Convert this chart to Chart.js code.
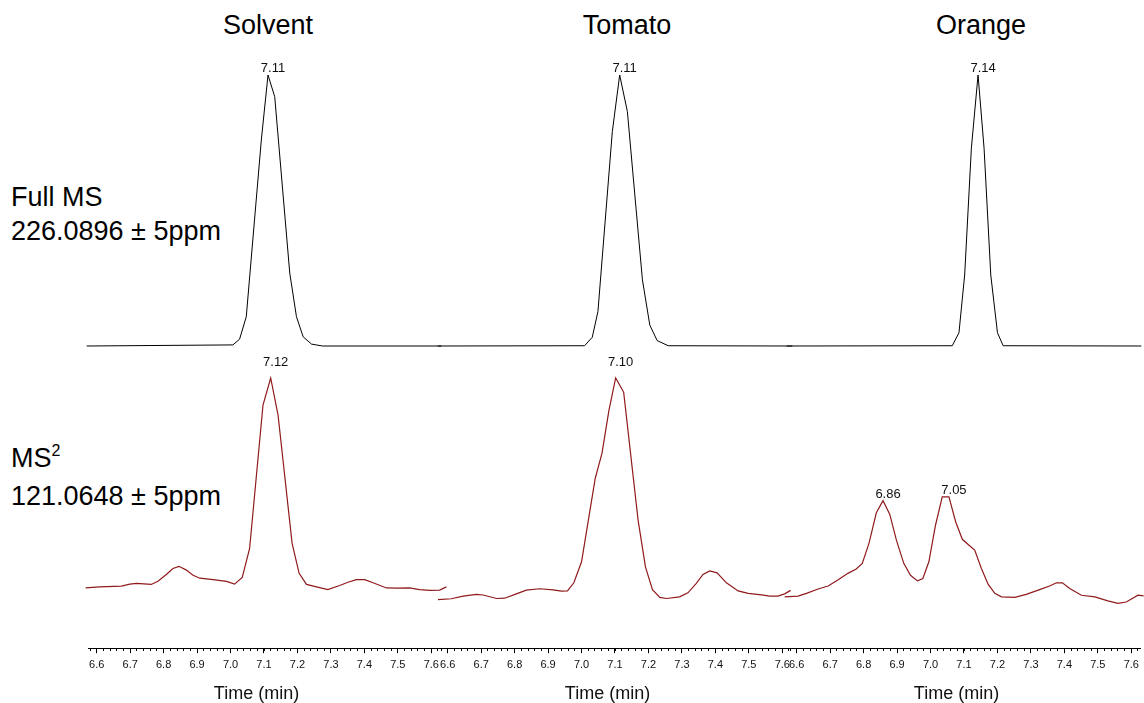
<!DOCTYPE html>
<html>
<head>
<meta charset="utf-8">
<script src="https://cdn.jsdelivr.net/npm/chart.js@4.4.1/dist/chart.umd.min.js"></script>
<style>
  body { margin: 0; width: 1144px; height: 703px; overflow: hidden; background: #fff; position: relative;
         font-family: "Liberation Sans", Arial, sans-serif; color: #000; }
  canvas { position: absolute; }
  .title { position: absolute; top: 10px; width: 200px; text-align: center; font-size: 27px; line-height: 31px; }
  .row { position: absolute; left: 11px; font-size: 27px; line-height: 34px; white-space: nowrap; }
  .sup { font-size: 16px; position: relative; top: -11px; }
</style>
</head>
<body>
<div class="title" style="left:168px">Solvent</div>
<div class="title" style="left:527px">Tomato</div>
<div class="title" style="left:881px">Orange</div>
<div class="row" style="top:180px">Full MS<br>226.0896 ± 5ppm</div>
<div class="row" style="top:441px;line-height:35px">MS<span class="sup">2</span><br>121.0648 ± 5ppm</div>

<canvas id="full0" width="372" height="290"></canvas>
<canvas id="full1" width="372" height="290"></canvas>
<canvas id="full2" width="372" height="290"></canvas>
<canvas id="ms2_0" width="372" height="355"></canvas>
<canvas id="ms2_1" width="372" height="355"></canvas>
<canvas id="ms2_2" width="372" height="355"></canvas>

<script>
// time window shown in every panel (min)
var timeRange = [6.574, 7.626];

// Full MS 226.0896 (relative intensity, %)
var solventFullTime = [6.570, 7.007, 7.027, 7.047, 7.092, 7.112, 7.132, 7.177, 7.197, 7.217, 7.242, 7.275, 7.630];
var solventFullInt  = [0, 0.4, 2.5, 10.8, 76.0, 100, 92.0, 26.9, 10.8, 3.4, 0.7, 0, 0];
var tomatoFullTime  = [6.570, 7.009, 7.032, 7.049, 7.092, 7.114, 7.137, 7.182, 7.204, 7.226, 7.259, 7.630];
var tomatoFullInt   = [0, 0.1, 3.2, 12.7, 79.1, 100, 86.5, 24.4, 7.7, 2.0, 0.1, 0];
var orangeFullTime  = [6.570, 7.065, 7.085, 7.102, 7.122, 7.142, 7.160, 7.180, 7.200, 7.217, 7.630];
var orangeFullInt   = [0, 0.1, 4.9, 26.2, 73.0, 100, 73.0, 26.2, 4.9, 0.1, 0];

// MS2 121.0648 (relative intensity, %)
var solventMs2Time = [6.567, 6.609, 6.674, 6.699, 6.719, 6.763, 6.783, 6.808, 6.828, 6.846, 6.868, 6.888, 6.908, 6.948, 6.988,
                      7.012, 7.035, 7.057, 7.097, 7.120, 7.142, 7.184, 7.205, 7.227, 7.257, 7.291, 7.326, 7.351, 7.376, 7.401,
                      7.426, 7.466, 7.496, 7.535, 7.565, 7.595, 7.625, 7.645];
var solventMs2Int  = [22.3, 22.7, 23.0, 23.7, 24.0, 23.6, 24.8, 27.3, 29.5, 30.3, 28.9, 27.0, 25.9, 25.4, 24.7,
                      23.7, 26.2, 36.9, 90.0, 100, 86.3, 38.8, 27.7, 23.6, 22.7, 21.7, 23.2, 24.4, 25.4, 25.4,
                      24.2, 22.3, 22.2, 22.3, 21.7, 21.4, 21.5, 22.7];
var tomatoMs2Time  = [6.571, 6.611, 6.646, 6.686, 6.706, 6.746, 6.770, 6.805, 6.835, 6.875, 6.915, 6.940, 6.958, 6.977, 7.000,
                      7.041, 7.061, 7.082, 7.102, 7.126, 7.169, 7.191, 7.212, 7.234, 7.254, 7.293, 7.318, 7.343, 7.363, 7.383,
                      7.405, 7.433, 7.468, 7.498, 7.538, 7.562, 7.587, 7.607, 7.625];
var tomatoMs2Int   = [18.0, 18.3, 19.3, 19.9, 19.7, 18.4, 18.5, 20.1, 21.5, 22.0, 21.6, 21.1, 21.2, 24.2, 32.0,
                      62.9, 72.1, 88.1, 100, 94.7, 47.4, 30.1, 21.7, 18.8, 18.4, 19.0, 20.5, 24.0, 27.3, 28.6,
                      27.9, 24.2, 21.2, 20.3, 19.7, 19.3, 19.3, 20.1, 21.4];
var orangeMs2Time  = [6.564, 6.604, 6.629, 6.664, 6.694, 6.723, 6.753, 6.778, 6.796, 6.816, 6.838, 6.858, 6.878, 6.898, 6.920,
                      6.940, 6.961, 6.977, 6.995, 7.015, 7.035, 7.055, 7.075, 7.095, 7.115, 7.132, 7.152, 7.172, 7.192, 7.212,
                      7.252, 7.286, 7.326, 7.356, 7.376, 7.394, 7.416, 7.451, 7.491, 7.530, 7.560, 7.585, 7.620, 7.637];
var orangeMs2Int   = [19.0, 19.3, 20.3, 21.9, 23.0, 25.2, 27.7, 29.3, 31.4, 38.8, 50.1, 54.6, 49.6, 40.0, 31.4,
                      27.0, 24.9, 25.8, 32.0, 45.6, 56.0, 56.0, 46.8, 40.3, 38.1, 36.3, 29.5, 23.7, 20.3, 19.0,
                      18.8, 19.9, 21.7, 23.0, 24.2, 24.2, 22.1, 19.6, 19.0, 17.5, 16.6, 17.1, 19.6, 19.4];

// labelled retention times
var fullPeaks = [[7.11], [7.11], [7.14]];
var ms2Peaks  = [[7.12], [7.10], [6.86, 7.05]];

var fullSeries = [[solventFullTime, solventFullInt], [tomatoFullTime, tomatoFullInt], [orangeFullTime, orangeFullInt]];
var ms2Series  = [[solventMs2Time, solventMs2Int], [tomatoMs2Time, tomatoMs2Int], [orangeMs2Time, orangeMs2Int]];

// layout: left edge of each plot area
var plotLeft = [88, 439, 788];
var pad = 10;
var fontFamily = '"Liberation Sans", Arial, sans-serif';

function zip(t, v) {
  var out = [];
  for (var i = 0; i < t.length; i++) out.push({x: t[i], y: v[i]});
  return out;
}

// writes the retention time above the highest point near each labelled time
var peakLabelPlugin = {
  id: 'peakLabels',
  afterDatasetsDraw: function(chart, args, opts) {
    var ctx = chart.ctx, area = chart.chartArea;
    var pts = chart.data.datasets[0].data;
    var xs = chart.scales.x, ys = chart.scales.y;
    ctx.save();
    ctx.font = '13px ' + fontFamily;
    ctx.fillStyle = '#111';
    ctx.textAlign = 'center';
    ctx.textBaseline = 'alphabetic';
    opts.peaks.forEach(function(rt) {
      var best = null;
      pts.forEach(function(p) {
        if (Math.abs(p.x - rt) <= 0.012 && (!best || p.y > best.y)) best = p;
      });
      if (!best) return;
      var px = xs.getPixelForValue(best.x) + 5;
      var py = ys.getPixelForValue(best.y) - 3;
      // tall peaks: label sits on the top edge of the plot
      if (opts.clampTop && py < area.top + 12) py = area.top;
      ctx.fillText(rt.toFixed(2), px, py);
    });
    ctx.restore();
  }
};

function fullChart(i) {
  var cv = document.getElementById('full' + i);
  cv.style.left = (plotLeft[i] - pad) + 'px';
  cv.style.top = '60px';
  return new Chart(cv, {
    type: 'line',
    data: {
      datasets: [{
        data: zip(fullSeries[i][0], fullSeries[i][1]),
        borderColor: '#000',
        borderWidth: 1,
        pointRadius: 0,
        tension: 0,
        clip: false
      }]
    },
    options: {
      responsive: false,
      animation: false,
      events: [],
      layout: { padding: { top: 15, bottom: 0, left: pad, right: pad } },
      plugins: {
        legend: { display: false },
        tooltip: { enabled: false },
        peakLabels: { peaks: fullPeaks[i], clampTop: false }
      },
      scales: {
        x: { type: 'linear', min: timeRange[0], max: timeRange[1], display: false },
        y: {
          min: -1.476, max: 100,
          ticks: { display: false, stepSize: 50 },
          border: { display: false },
          grid: {
            drawTicks: false,
            lineWidth: 1.6,
            color: function(c) { return c.tick && c.tick.value === 0 ? '#000' : 'rgba(0,0,0,0)'; }
          },
          afterFit: function(s) { s.width = 0; }
        }
      }
    },
    plugins: [peakLabelPlugin]
  });
}

function ms2Chart(i) {
  var cv = document.getElementById('ms2_' + i);
  cv.style.left = (plotLeft[i] - pad) + 'px';
  cv.style.top = '350px';
  return new Chart(cv, {
    type: 'line',
    data: {
      datasets: [{
        data: zip(ms2Series[i][0], ms2Series[i][1]),
        borderColor: '#901a1c',
        borderWidth: 1.2,
        pointRadius: 0,
        tension: 0,
        clip: false
      }]
    },
    options: {
      responsive: false,
      animation: false,
      events: [],
      layout: { padding: { top: 16, bottom: 0, left: pad, right: pad } },
      plugins: {
        legend: { display: false },
        tooltip: { enabled: false },
        peakLabels: { peaks: ms2Peaks[i], clampTop: true }
      },
      scales: {
        x: {
          type: 'linear', position: 'bottom',
          min: timeRange[0], max: timeRange[1],
          border: { display: true, color: '#000', width: 1 },
          grid: { drawOnChartArea: false, tickLength: 5, color: '#000' },
          ticks: {
            stepSize: 0.1, includeBounds: false, autoSkip: false, maxRotation: 0, padding: 5,
            color: '#111', font: { size: 11, family: fontFamily },
            callback: function(v) { return v.toFixed(1); }
          },
          title: {
            // trailing no-break spaces nudge the centred title a little to the left
            display: true, text: 'Time (min)\u00a0\u00a0\u00a0', color: '#111',
            font: { size: 18, family: fontFamily },
            padding: { top: 7, bottom: 0 }
          }
        },
        xm: {
          type: 'linear', position: { y: 0 },
          min: timeRange[0], max: timeRange[1],
          border: { display: false },
          grid: { drawOnChartArea: false, tickLength: 3, color: '#000' },
          ticks: { display: false, stepSize: 0.02, includeBounds: false, autoSkip: false }
        },
        y: { min: 0, max: 104.44, display: false }
      }
    },
    plugins: [peakLabelPlugin]
  });
}

for (var k = 0; k < 3; k++) {
  fullChart(k);
  ms2Chart(k);
}
</script>
</body>
</html>
